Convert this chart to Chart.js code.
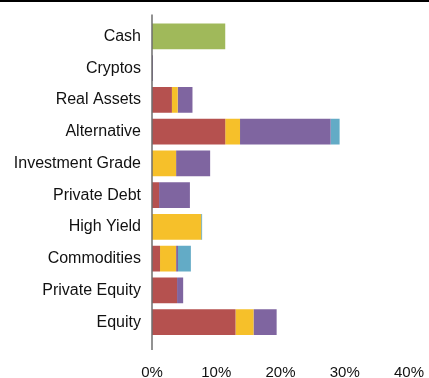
<!DOCTYPE html>
<html>
<head>
    <title>Allocation</title>
    <script src="https://cdn.jsdelivr.net/npm/chart.js"></script>
    <style>
        html, body { margin: 0; padding: 0; background: #fff; }
        .chart-box { width: 429px; height: 378px; position: relative; }
    </style>
</head>
<body>

<div class="chart-box"><canvas id="grafico"></canvas></div>

<script>
    const categorias = ['Cash', 'Cryptos', 'Real Assets', 'Alternative', 'Investment Grade',
        'Private Debt', 'High Yield', 'Commodities', 'Private Equity', 'Equity'];
    const ticksX = [0, 10, 20, 30, 40];

    // percent weights per category, one array per stack segment
    const rojo     = [null, null, 3.1, 11.4, null, 1.1, null, 1.25, 3.9, 13.0];
    const amarillo = [null, null, 0.9, 2.3, 3.75, null, 7.65, 2.5, null, 2.8];
    const morado   = [null, 0.15, 2.3, 14.1, 5.3, 4.8, null, 0.3, 0.95, 3.6];
    const celeste  = [null, null, null, 1.4, null, null, 0.15, 2.0, null, null];
    const verde    = [11.4, null, null, null, null, null, null, null, null, null];

    const familia = "'Liberation Sans', Arial, sans-serif";

    // thin gray zero line on top of the bars plus the rule across the top
    const lineas = {
        id: 'lineas',
        afterDatasetsDraw(chart) {
            const ctx = chart.ctx;
            const x0 = chart.scales.x.getPixelForValue(0);
            const area = chart.chartArea;
            ctx.save();
            ctx.strokeStyle = 'rgba(110,110,110,0.75)';
            ctx.lineWidth = 2;
            ctx.beginPath();
            ctx.moveTo(x0, area.top - 6);
            ctx.lineTo(x0, area.bottom + 12);
            ctx.stroke();
            ctx.strokeStyle = '#000';
            ctx.lineWidth = 2;
            ctx.beginPath();
            ctx.moveTo(0, 1);
            ctx.lineTo(chart.width, 1);
            ctx.stroke();
            ctx.restore();
        }
    };

    new Chart(document.getElementById('grafico').getContext('2d'), {
        type: 'bar',
        data: {
            labels: categorias,
            datasets: [
                { label: 'Rojo', data: rojo, backgroundColor: '#B5514F' },
                { label: 'Amarillo', data: amarillo, backgroundColor: '#F6C02A' },
                { label: 'Morado', data: morado, backgroundColor: '#7F65A0' },
                { label: 'Celeste', data: celeste, backgroundColor: '#63ABC6' },
                { label: 'Verde', data: verde, backgroundColor: '#A0B95A' }
            ]
        },
        options: {
            indexAxis: 'y',
            responsive: true,
            maintainAspectRatio: false,
            animation: false,
            layout: { padding: { top: 18, right: 0, left: 0, bottom: 0 } },
            datasets: { bar: { barPercentage: 0.81, categoryPercentage: 1, borderWidth: 0 } },
            plugins: {
                legend: { display: false },
                tooltip: { enabled: false }
            },
            scales: {
                x: {
                    stacked: true,
                    min: 0,
                    max: 40,
                    afterBuildTicks: (s) => { s.ticks = ticksX.map(v => ({ value: v })); },
                    afterFit: (s) => {
                        s.height = 40;
                        s.paddingLeft = 0;
                        s.paddingRight = 20;
                    },
                    grid: { display: false, drawTicks: false },
                    border: { display: false },
                    ticks: {
                        font: { family: familia, size: 15 },
                        color: '#111',
                        padding: 26,
                        callback: (v) => v + '%'
                    }
                },
                y: {
                    stacked: true,
                    afterFit: (s) => { s.width = 152; },
                    grid: { display: false, drawTicks: false },
                    border: { display: false },
                    ticks: { font: { family: familia, size: 16 }, color: '#111', padding: 11 }
                }
            }
        },
        plugins: [lineas]
    });
</script>

</body>
</html>
